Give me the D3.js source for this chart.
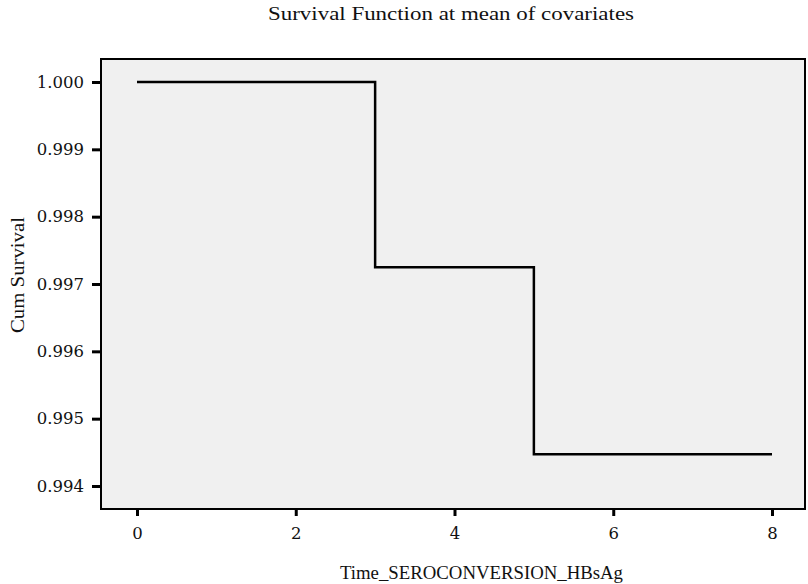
<!DOCTYPE html>
<html><head><meta charset="utf-8">
<script src="https://cdn.jsdelivr.net/npm/d3@7"></script>
<style>body{margin:0;background:#fff}svg{display:block}text{font-family:"Liberation Serif","DejaVu Serif",serif;fill:#111}</style>
</head><body>
<script>
const times = [0, 3, 3, 5, 5, 8];
const survival = [1.000, 1.000, 0.99725, 0.99725, 0.99447, 0.99447];
const xTicks = [0, 2, 4, 6, 8];
const yTicks = [0.994, 0.995, 0.996, 0.997, 0.998, 0.999, 1.000];
const title = "Survival Function at mean of covariates";
const xTitle = "Time_SEROCONVERSION_HBsAg";
const yTitle = "Cum Survival";

const W = 808, H = 584;
const svg = d3.select("body").append("svg").attr("width", W).attr("height", H);

const box = {l: 101, t: 59, r: 805, b: 509};
const x = d3.scaleLinear().domain([0, 8]).range([137, 772]);
const y = d3.scaleLinear().domain([0.994, 1.000]).range([486, 82]);

svg.append("rect").attr("x", box.l).attr("y", box.t)
  .attr("width", box.r - box.l).attr("height", box.b - box.t)
  .attr("fill", "#f0f0f0").attr("stroke", "#000").attr("stroke-width", 2);

const yAxis = svg.append("g").attr("transform", `translate(${box.l},0)`)
  .call(d3.axisLeft(y).tickValues(yTicks).tickFormat(d3.format(".3f")).tickSize(9).tickPadding(8));
const xAxis = svg.append("g").attr("transform", `translate(0,${box.b})`)
  .call(d3.axisBottom(x).tickValues(xTicks).tickFormat(d3.format("d")).tickSize(7).tickPadding(11));
[yAxis, xAxis].forEach(a => {
  a.select(".domain").remove();
  a.selectAll(".tick line").attr("stroke", "#000").attr("stroke-width", 3);
  a.selectAll(".tick text").style("font-size", "16.5px").style("font-family", '"DejaVu Serif",serif').attr("fill", "#111");
});

const line = d3.line().x((d, i) => x(times[i])).y(d => y(d));
svg.append("path").datum(survival).attr("d", line)
  .attr("fill", "none").attr("stroke", "#000").attr("stroke-width", 2.5);

svg.append("text").attr("x", 268).attr("y", 20)
  .attr("textLength", 366).attr("lengthAdjust", "spacingAndGlyphs")
  .style("font-size", "19.5px").text(title);
svg.append("text").attr("x", 340).attr("y", 579)
  .attr("textLength", 283).attr("lengthAdjust", "spacingAndGlyphs")
  .style("font-size", "19.5px").text(xTitle);
svg.append("text").attr("transform", "translate(24,333) rotate(-90)")
  .attr("textLength", 116).attr("lengthAdjust", "spacingAndGlyphs")
  .style("font-size", "19.5px").text(yTitle);
</script>
</body></html>
